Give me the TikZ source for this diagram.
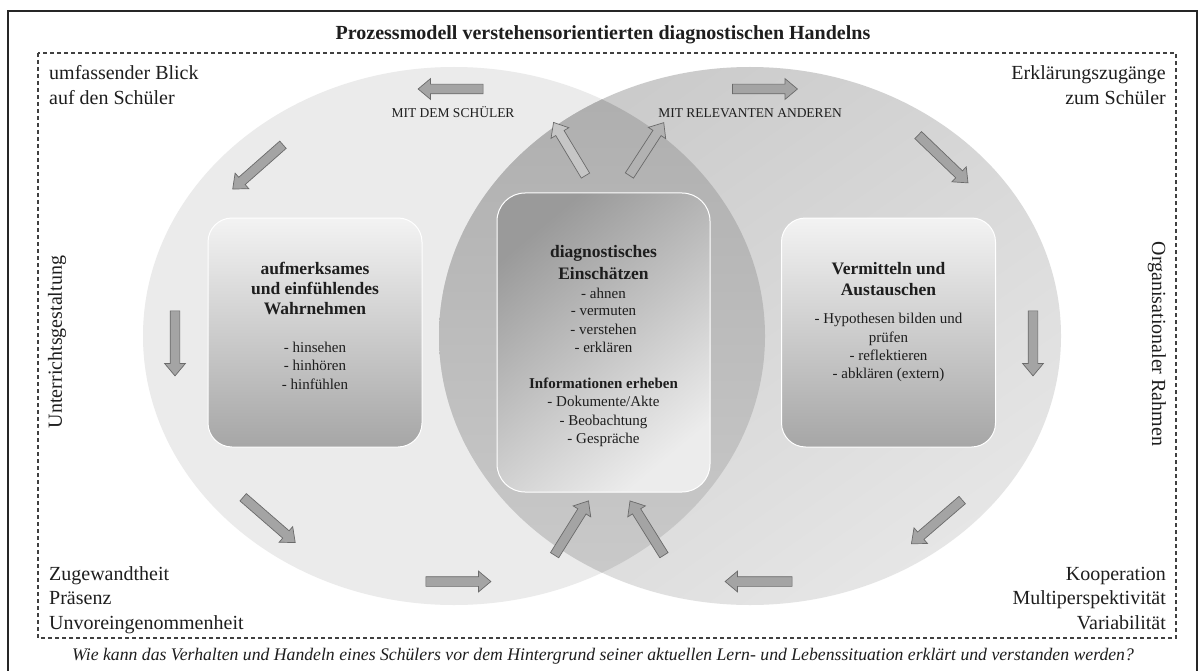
\documentclass[tikz,border=0pt]{standalone}
\usepackage{fontspec}
\setmainfont{Liberation Serif}
\usetikzlibrary{shapes.arrows}
\definecolor{circL}{HTML}{EBEBEB}
\definecolor{circRtop}{HTML}{CACACA}
\definecolor{circRbot}{HTML}{E6E6E6}
\definecolor{lensTop}{HTML}{ADADAD}
\definecolor{lensBot}{HTML}{CBCBCB}
\definecolor{boxTop}{HTML}{F3F3F3}
\definecolor{boxBot}{HTML}{A6A6A6}
\definecolor{cboxDark}{HTML}{9A9A9A}
\definecolor{cboxMid}{HTML}{D8D8D8}
\definecolor{cboxLight}{HTML}{ECECEC}
\definecolor{arrFill}{HTML}{A4A4A4}
\definecolor{arrEdge}{HTML}{6A6A6A}
\definecolor{arrLight}{HTML}{C6C6C6}
\definecolor{txt}{HTML}{1E1E1E}
\begin{document}
\begin{tikzpicture}[x=1pt,y=-1pt,
  outerframe/.style={draw=black!85, line width=1.3pt},
  dashframe/.style={draw=black!75, line width=1.1pt, dash pattern=on 4pt off 3pt},
  sidebox/.style={rectangle, rounded corners=24pt, draw=white, line width=1pt,
    top color=boxTop, bottom color=boxBot, minimum width=214pt, minimum height=229pt, inner sep=0pt},
  centerbox/.style={rectangle, rounded corners=28pt, draw=white, line width=1pt,
    top color=cboxDark, middle color=cboxMid, bottom color=cboxLight, shading angle=40,
    minimum width=213pt, minimum height=299pt, inner sep=0pt},
  barrow/.style={single arrow, draw=arrEdge, fill=arrFill, line width=0.7pt,
    inner xsep=0pt, inner ysep=4.5pt, single arrow head extend=5.5pt,
    single arrow tip angle=80, minimum height=65pt, anchor=center},
  larrow/.style={barrow, fill=arrLight},
  corner/.style={font=\fontsize{20}{25}\selectfont, text=txt, inner sep=0pt},
  lab/.style={font=\fontsize{13.5}{16}\selectfont, text=txt, inner sep=0pt, anchor=base},
  btitle/.style={font=\fontsize{17.5}{21}\selectfont\bfseries, text=txt, inner sep=0pt, anchor=base},
  bsub/.style={font=\fontsize{15}{18}\selectfont\bfseries, text=txt, inner sep=0pt, anchor=base},
  item/.style={font=\fontsize{15}{18}\selectfont, text=txt, inner sep=0pt, anchor=base}
]
\useasboundingbox (0,0) rectangle (1204,671);
\fill[white] (0,0) rectangle (1204,671);

% frames
\draw[outerframe] (8,11) rectangle (1197,690);
\draw[dashframe] (38,53) rectangle (1176,638);

% circles
\fill[circL] (454,336) ellipse [x radius=311pt, y radius=269pt];
\shade[top color=circRtop, bottom color=circRbot, shading angle=35] (750,336) ellipse [x radius=311pt, y radius=269pt];
\begin{scope}
  \clip (454,336) ellipse [x radius=311pt, y radius=269pt];
  \shade[top color=lensTop, bottom color=lensBot] (750,336) ellipse [x radius=311pt, y radius=269pt];
\end{scope}

% boxes
\node[sidebox] (wahr) at (315,332.5) {};
\node[sidebox] (verm) at (888.5,332.5) {};
\node[centerbox] (diag) at (603.5,342.5) {};

% block arrows
\node[barrow, rotate=180] (a1) at (453.5,89) {};
\node[barrow, rotate=0] (a2) at (762,89) {};
\node[barrow, rotate=-138.6, minimum height=67pt] (a3) at (260,165) {};
\node[barrow, rotate=-90] (a4) at (175,340.5) {};
\node[barrow, rotate=-41, minimum height=69pt] (a5) at (267,518) {};
\node[barrow, rotate=0] (a6) at (455.5,581.5) {};
\node[barrow, rotate=58, minimum height=64pt] (a7) at (570,530.5) {};
\node[barrow, rotate=122, minimum height=64pt] (a8) at (648.5,530.5) {};
\node[barrow, rotate=180, minimum height=67pt] (a9) at (761.5,581.5) {};
\node[barrow, rotate=-139.3, minimum height=67pt] (a10) at (939,520) {};
\node[barrow, rotate=-90] (a11) at (1033,340.5) {};
\node[barrow, rotate=-43.8, minimum height=69pt] (a12) at (941,157) {};
\node[larrow, rotate=121, minimum height=62pt] (a13) at (571,151.5) {};
\node[barrow, fill=arrLight!90!black, rotate=57, minimum height=63pt] (a14) at (645,151.5) {};

% title and question
\node[font=\fontsize{20}{24}\selectfont\bfseries, text=txt, inner sep=0pt, anchor=base] (title) at (603,40) {Prozessmodell verstehensorientierten diagnostischen Handelns};
\node[font=\fontsize{17.7}{21}\selectfont\itshape, text=txt, inner sep=0pt, anchor=base] (question) at (603,660) {Wie kann das Verhalten und Handeln eines Schülers vor dem Hintergrund seiner aktuellen Lern- und Lebenssituation erklärt und verstanden werden?};

% corner texts
\node[corner, anchor=base west] (tl1) at (49,80) {umfassender Blick};
\node[corner, anchor=base west] (tl2) at (49,105) {auf den Schüler};
\node[corner, anchor=base east] (tr1) at (1166,80) {Erklärungszugänge};
\node[corner, anchor=base east] (tr2) at (1166,105) {zum Schüler};
\node[corner, anchor=base west] (bl1) at (49,580) {Zugewandtheit};
\node[corner, anchor=base west] (bl2) at (49,604.5) {Präsenz};
\node[corner, anchor=base west] (bl3) at (49,629) {Unvoreingenommenheit};
\node[corner, anchor=base east] (br1) at (1166,580) {Kooperation};
\node[corner, anchor=base east] (br2) at (1166,604.5) {Multiperspektivität};
\node[corner, anchor=base east] (br3) at (1166,629) {Variabilität};
\node[corner, rotate=90] (lside) at (57,342) {Unterrichtsgestaltung};
\node[corner, rotate=-90] (rside) at (1157,344) {Organisationaler Rahmen};

% labels
\node[lab] (mds) at (453,118) {MIT DEM SCHÜLER};
\node[lab] (mra) at (750,118) {MIT RELEVANTEN ANDEREN};

% left box text
\node[btitle] (w1) at (315,274) {aufmerksames};
\node[btitle] (w2) at (315,294) {und einfühlendes};
\node[btitle] (w3) at (315,314) {Wahrnehmen};
\node[item] (w4) at (315,352) {- hinsehen};
\node[item] (w5) at (315,370.5) {- hinhören};
\node[item] (w6) at (315,389) {- hinfühlen};

% center box text
\node[btitle] (d1) at (603.5,257) {diagnostisches};
\node[btitle] (d2) at (603.5,279) {Einschätzen};
\node[item] (d3) at (603.5,298) {- ahnen};
\node[item] (d4) at (603.5,315.5) {- vermuten};
\node[item] (d5) at (603.5,334) {- verstehen};
\node[item] (d6) at (603.5,352) {- erklären};
\node[bsub] (d7) at (603.5,388) {Informationen erheben};
\node[item] (d8) at (603.5,406) {- Dokumente/Akte};
\node[item] (d9) at (603.5,425) {- Beobachtung};
\node[item] (d10) at (603.5,443) {- Gespräche};

% right box text
\node[btitle] (v1) at (888.5,274) {Vermitteln und};
\node[btitle] (v2) at (888.5,295) {Austauschen};
\node[item] (v3) at (888.5,323) {- Hypothesen bilden und};
\node[item] (v4) at (888.5,342) {prüfen};
\node[item] (v5) at (888.5,360) {- reflektieren};
\node[item] (v6) at (888.5,378) {- abklären (extern)};
\end{tikzpicture}
\end{document}
